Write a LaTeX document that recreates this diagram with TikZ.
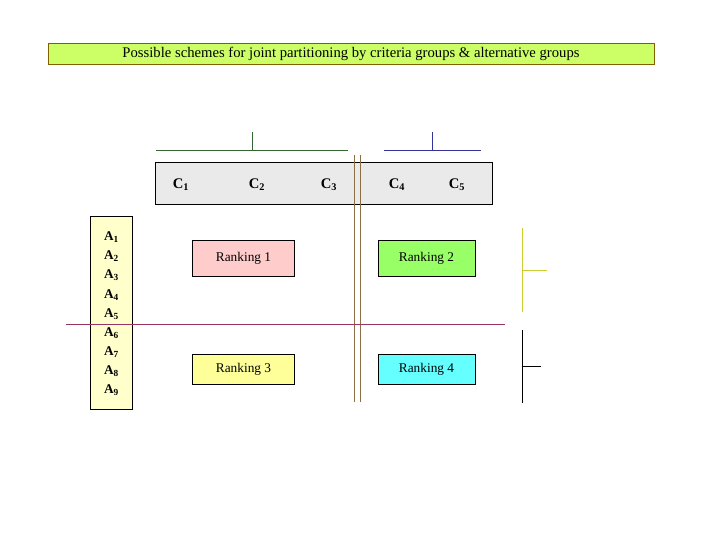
\documentclass[tikz,border=0pt]{standalone}
\usepackage{fontspec}
\setmainfont{Liberation Serif}
\usetikzlibrary{positioning}
\definecolor{titlefill}{RGB}{204,255,102}
\definecolor{titleedge}{RGB}{128,96,0}
\definecolor{critfill}{RGB}{234,234,234}
\definecolor{altfill}{RGB}{255,255,204}
\definecolor{rankpink}{RGB}{255,204,204}
\definecolor{rankgreen}{RGB}{153,255,102}
\definecolor{rankyellow}{RGB}{255,255,153}
\definecolor{rankcyan}{RGB}{102,255,255}
\definecolor{grpgreen}{RGB}{51,102,51}
\definecolor{grpblue}{RGB}{51,51,153}
\definecolor{splitbrown}{RGB}{140,110,70}
\definecolor{splitpurple}{RGB}{153,51,102}
\definecolor{grpyellow}{RGB}{204,204,51}
\tikzset{
  frame/.style  ={rectangle, draw=black, line width=0.75pt, inner sep=0pt},
  rank/.style   ={frame, minimum width=76.5pt, minimum height=27pt,
                  font=\fontsize{10}{12}\selectfont},
  lbl/.style    ={inner sep=0pt, font=\fontsize{11}{13}\selectfont\bfseries},
  grp/.style    ={line width=0.75pt},
}

\begin{document}
\begin{tikzpicture}[x=0.75pt, y=-0.75pt]
  \useasboundingbox (0,0) rectangle (720,540);
  % title
  \node[frame, draw=titleedge, fill=titlefill, minimum width=454.5pt,
        minimum height=15.75pt, font=\fontsize{11}{12}\selectfont] (title) at (351,53.5)
        {Possible schemes for joint partitioning by criteria groups \& alternative groups};
  % criteria and alternatives
  \node[frame, fill=critfill, minimum width=252.75pt, minimum height=31.5pt] (crit) at (323.5,183) {};
  \node[frame, fill=altfill, minimum width=31.5pt, minimum height=144.75pt] (alt) at (111.5,312.5) {};
  \foreach \i/\x in {1/181, 2/257, 3/329, 4/397, 5/457}
    \node[lbl] (c\i) at (\x,185) {C\textsubscript{\i}};
  \foreach \i in {1,...,9}
    \node[lbl, font=\fontsize{10}{12}\selectfont\bfseries] (a\i) at (111.5,{237+(\i-1)*19.2}) {A\textsubscript{\i}};
  % rankings
  \node[rank, fill=rankpink]   (r1) at (243.5,258) {Ranking 1};
  \node[rank, fill=rankgreen, minimum width=72.75pt]  (r2) at (426.5,258) {Ranking 2};
  \node[rank, fill=rankyellow, minimum height=22.5pt] (r3) at (243.5,369) {Ranking 3};
  \node[rank, fill=rankcyan, minimum width=72.75pt, minimum height=22.5pt] (r4) at (426.5,369) {Ranking 4};
  % splits
  \draw[grp, splitbrown] (354.5,155) -- (354.5,402);
  \draw[grp, splitbrown] (360,155) -- (360,402);
  \draw[grp, splitpurple] (66,324.5) -- (505,324.5);
  % group brackets
  \draw[grp, grpgreen] (156,150) -- (348,150) (252,150) -- (252,132);
  \draw[grp, grpblue]  (384,150) -- (481,150) (432,150) -- (432,132);
  \draw[grp, grpyellow] (522,228) -- (522,312) (522,270) -- (547,270);
  \draw[grp, black]     (522,330) -- (522,403) (522,366) -- (541,366);
\end{tikzpicture}
\end{document}
